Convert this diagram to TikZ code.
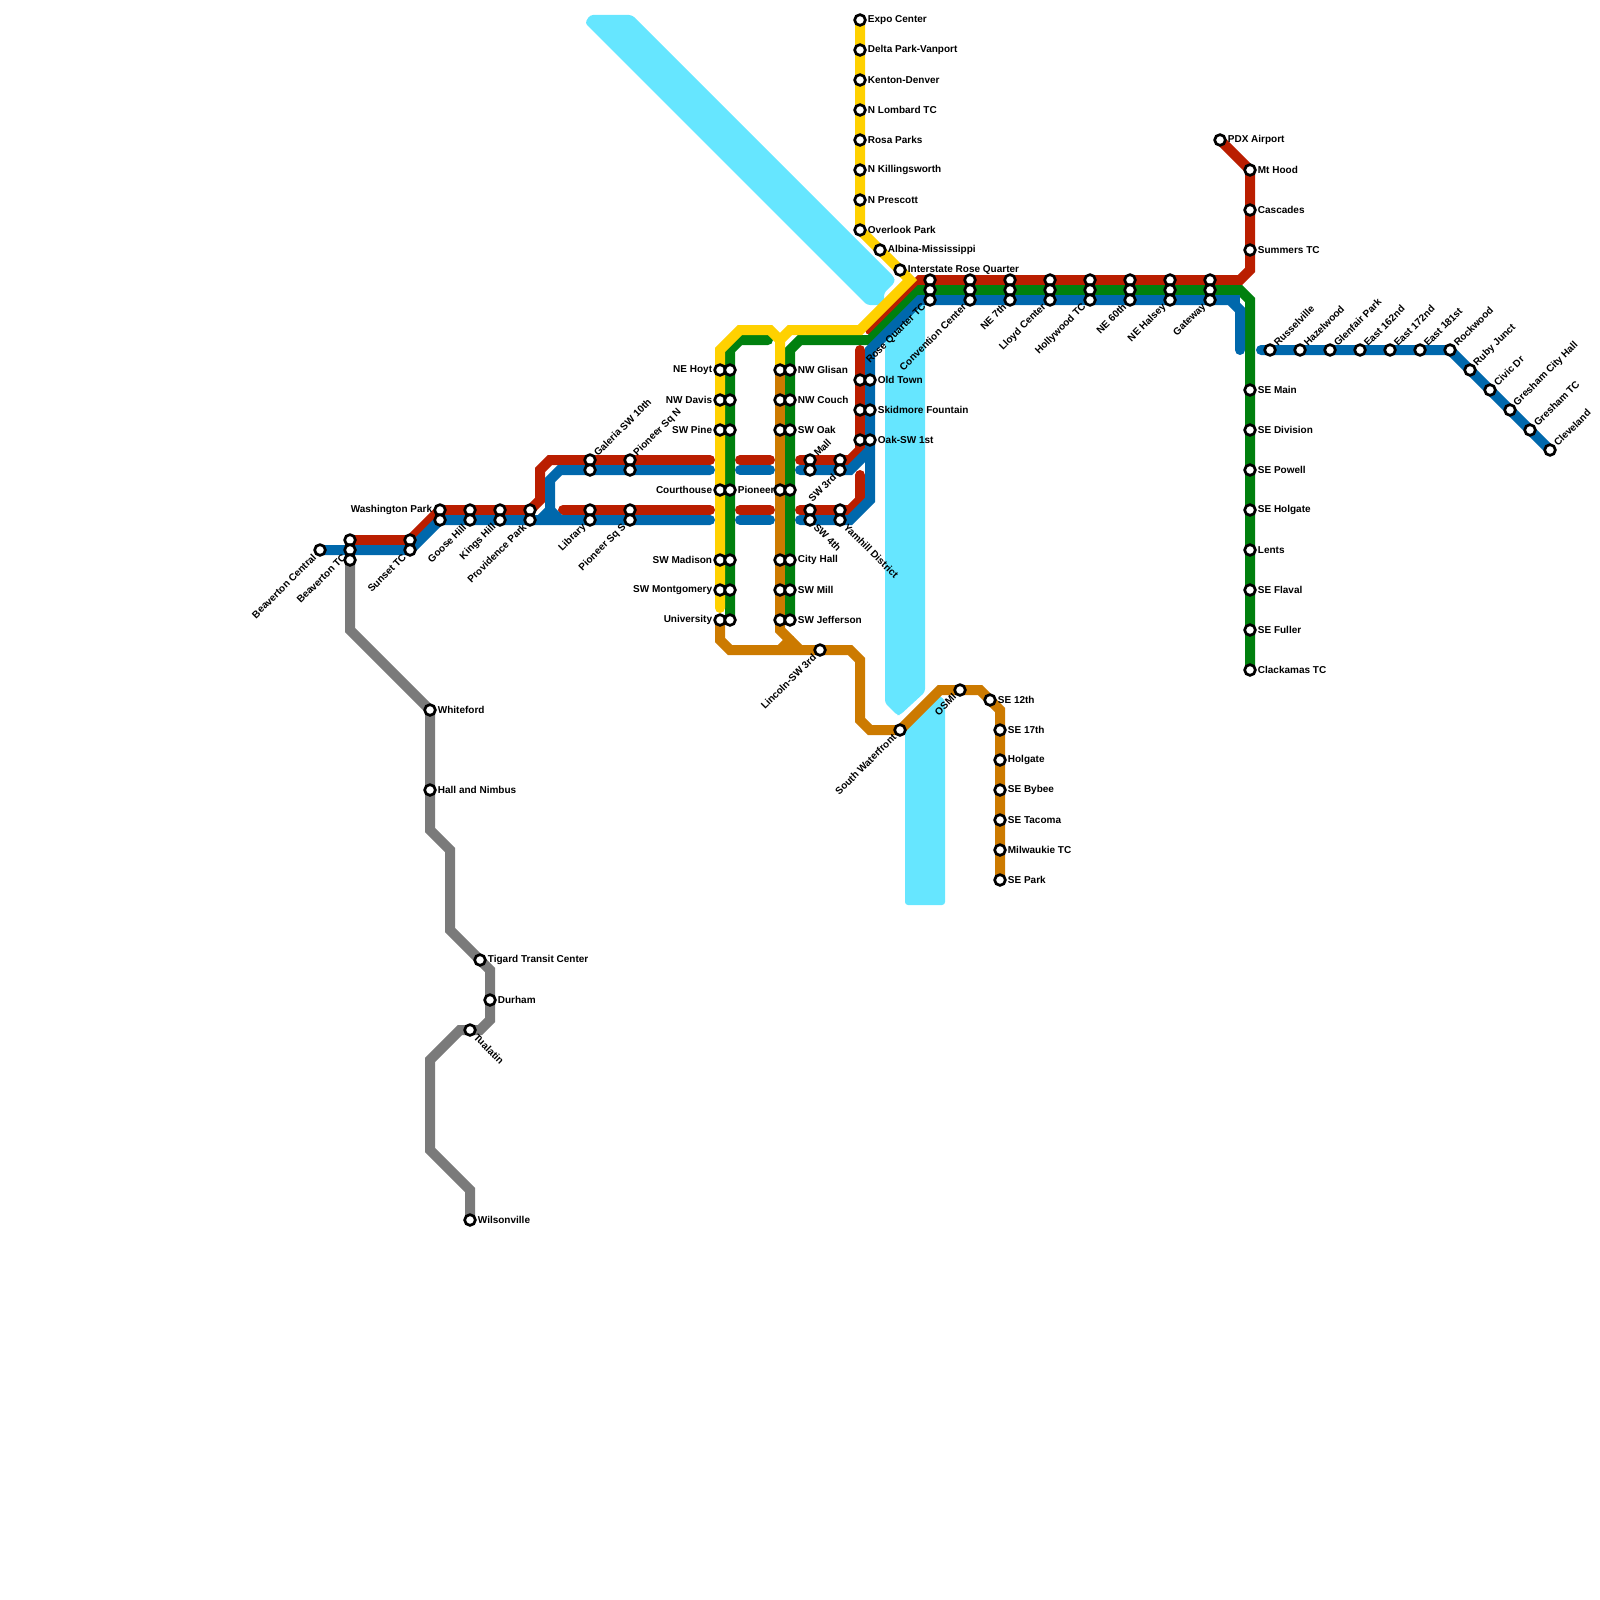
\documentclass[tikz,border=0pt]{standalone}
\usepackage{fontspec}
\setmainfont{Liberation Sans}
\definecolor{mxred}{RGB}{186,30,0}
\definecolor{mxblue}{RGB}{0,104,172}
\definecolor{mxgreen}{RGB}{0,128,14}
\definecolor{mxyellow}{RGB}{255,209,0}
\definecolor{mxorange}{RGB}{204,122,0}
\definecolor{mxgray}{RGB}{122,122,122}
\definecolor{mxriver}{RGB}{102,230,255}
\pgfdeclarelayer{lines}
\pgfsetlayers{lines,main}
\tikzset{
  railline/.style={line width=5pt, line cap=round, line join=miter},
  river/.style={fill=mxriver, draw=none, rounded corners=1.5pt},
  stn/.style={circle, draw=black, fill=white, line width=1.35pt, minimum size=5.35pt, inner sep=0pt},
  txt/.style={font=\fontsize{5}{6}\selectfont\bfseries, inner sep=0.4pt, text=black},
  lbe/.style={label={[txt]right:#1}},
  lbw/.style={label={[txt]left:#1}},
  lbne/.style={label={[txt,rotate=45,anchor=west]45:#1}},
  lbsw/.style={label={[txt,rotate=45,anchor=east]225:#1}},
  lbse/.style={label={[txt,rotate=-45,anchor=west]-45:#1}}
}
\begin{document}
\begin{tikzpicture}[x=0.5pt,y=-0.5pt]
  \useasboundingbox (0,0) rectangle (1600,1600);
  % Yellow line north
  \node[stn, lbe=Expo Center] (expo) at (860,20) {};
  \node[stn, lbe=Delta Park-Vanport] (delta) at (860,50) {};
  \node[stn, lbe=Kenton-Denver] (kenton) at (860,80) {};
  \node[stn, lbe=N Lombard TC] (lombard) at (860,110) {};
  \node[stn, lbe=Rosa Parks] (rosaparks) at (860,140) {};
  \node[stn, lbe=N Killingsworth] (killings) at (860,170) {};
  \node[stn, lbe=N Prescott] (prescott) at (860,200) {};
  \node[stn, lbe=Overlook Park] (overlook) at (860,230) {};
  \node[stn, lbe=Albina-Mississippi] (albina) at (880,250) {};
  \node[stn, lbe=Interstate Rose Quarter] (interstate) at (900,270) {};
  % East trunk
  \node[stn] (rosea) at (930,280) {};
  \node[stn] (roseb) at (930,290) {};
  \node[stn, lbsw=Rose Quarter TC] (rosec) at (930,300) {};
  \node[stn] (conva) at (970,280) {};
  \node[stn] (convb) at (970,290) {};
  \node[stn, lbsw=Convention Center] (convc) at (970,300) {};
  \node[stn] (ne7a) at (1010,280) {};
  \node[stn] (ne7b) at (1010,290) {};
  \node[stn, lbsw=NE 7th] (ne7c) at (1010,300) {};
  \node[stn] (lloyda) at (1050,280) {};
  \node[stn] (lloydb) at (1050,290) {};
  \node[stn, lbsw=Lloyd Center] (lloydc) at (1050,300) {};
  \node[stn] (holla) at (1090,280) {};
  \node[stn] (hollb) at (1090,290) {};
  \node[stn, lbsw=Hollywood TC] (hollc) at (1090,300) {};
  \node[stn] (ne60a) at (1130,280) {};
  \node[stn] (ne60b) at (1130,290) {};
  \node[stn, lbsw=NE 60th] (ne60c) at (1130,300) {};
  \node[stn] (halseya) at (1170,280) {};
  \node[stn] (halseyb) at (1170,290) {};
  \node[stn, lbsw=NE Halsey] (halseyc) at (1170,300) {};
  \node[stn] (gatea) at (1210,280) {};
  \node[stn] (gateb) at (1210,290) {};
  \node[stn, lbsw=Gateway] (gatec) at (1210,300) {};
  % Airport branch
  \node[stn, lbe=PDX Airport] (pdx) at (1220,140) {};
  \node[stn, lbe=Mt Hood] (mthood) at (1250,170) {};
  \node[stn, lbe=Cascades] (cascades) at (1250,210) {};
  \node[stn, lbe=Summers TC] (summers) at (1250,250) {};
  % Clackamas branch
  \node[stn, lbe=SE Main] (semain) at (1250,390) {};
  \node[stn, lbe=SE Division] (sedivision) at (1250,430) {};
  \node[stn, lbe=SE Powell] (sepowell) at (1250,470) {};
  \node[stn, lbe=SE Holgate] (seholgate) at (1250,510) {};
  \node[stn, lbe=Lents] (lents) at (1250,550) {};
  \node[stn, lbe=SE Flaval] (seflaval) at (1250,590) {};
  \node[stn, lbe=SE Fuller] (sefuller) at (1250,630) {};
  \node[stn, lbe=Clackamas TC] (clackamas) at (1250,670) {};
  % Gresham branch
  \node[stn, lbne=Russelville] (russel) at (1270,350) {};
  \node[stn, lbne=Hazelwood] (hazel) at (1300,350) {};
  \node[stn, lbne=Glenfair Park] (glenfair) at (1330,350) {};
  \node[stn, lbne=East 162nd] (east162) at (1360,350) {};
  \node[stn, lbne=East 172nd] (east172) at (1390,350) {};
  \node[stn, lbne=East 181st] (east181) at (1420,350) {};
  \node[stn, lbne=Rockwood] (rockwood) at (1450,350) {};
  \node[stn, lbne=Ruby Junct] (ruby) at (1470,370) {};
  \node[stn, lbne=Civic Dr] (civic) at (1490,390) {};
  \node[stn, lbne=Gresham City Hall] (greshamch) at (1510,410) {};
  \node[stn, lbne=Gresham TC] (greshamtc) at (1530,430) {};
  \node[stn, lbne=Cleveland] (cleveland) at (1550,450) {};
  % West side
  \node[stn, lbsw=Beaverton Central] (bvcentral) at (320,550) {};
  \node[stn] (bvtca) at (350,540) {};
  \node[stn, lbsw=Beaverton TC] (bvtcb) at (350,550) {};
  \node[stn] (bvtcc) at (350,560) {};
  \node[stn] (sunseta) at (410,540) {};
  \node[stn, lbsw=Sunset TC] (sunsetb) at (410,550) {};
  \node[stn, lbw=Washington Park] (washa) at (440,510) {};
  \node[stn] (washb) at (440,520) {};
  \node[stn] (goosea) at (470,510) {};
  \node[stn, lbsw=Goose Hill] (gooseb) at (470,520) {};
  \node[stn] (kingsa) at (500,510) {};
  \node[stn, lbsw=Kings Hill] (kingsb) at (500,520) {};
  \node[stn] (provia) at (530,510) {};
  \node[stn, lbsw=Providence Park] (provib) at (530,520) {};
  % Downtown rows
  \node[stn, lbne=Galeria SW 10th] (galeriaa) at (590,460) {};
  \node[stn] (galeriab) at (590,470) {};
  \node[stn, lbne=Pioneer Sq N] (psqna) at (630,460) {};
  \node[stn] (psqnb) at (630,470) {};
  \node[stn] (librarya) at (590,510) {};
  \node[stn, lbsw=Library] (libraryb) at (590,520) {};
  \node[stn] (psqsa) at (630,510) {};
  \node[stn, lbsw=Pioneer Sq S] (psqsb) at (630,520) {};
  \node[stn, lbne=Mall] (malla) at (810,460) {};
  \node[stn] (mallb) at (810,470) {};
  \node[stn] (sw3a) at (840,460) {};
  \node[stn, lbsw=SW 3rd] (sw3b) at (840,470) {};
  \node[stn] (sw4a) at (810,510) {};
  \node[stn, lbse=SW 4th] (sw4b) at (810,520) {};
  \node[stn] (yamhilla) at (840,510) {};
  \node[stn, lbse=Yamhill District] (yamhillb) at (840,520) {};
  % Downtown columns
  \node[stn, lbw=NE Hoyt] (hoyta) at (720,370) {};
  \node[stn] (hoytb) at (730,370) {};
  \node[stn, lbw=NW Davis] (davisa) at (720,400) {};
  \node[stn] (davisb) at (730,400) {};
  \node[stn, lbw=SW Pine] (pinea) at (720,430) {};
  \node[stn] (pineb) at (730,430) {};
  \node[stn, lbw=Courthouse] (courta) at (720,490) {};
  \node[stn, lbe=Pioneer] (courtb) at (730,490) {};
  \node[stn, lbw=SW Madison] (madisona) at (720,560) {};
  \node[stn] (madisonb) at (730,560) {};
  \node[stn, lbw=SW Montgomery] (montga) at (720,590) {};
  \node[stn] (montgb) at (730,590) {};
  \node[stn, lbw=University] (univa) at (720,620) {};
  \node[stn] (univb) at (730,620) {};
  \node[stn] (glisana) at (780,370) {};
  \node[stn, lbe=NW Glisan] (glisanb) at (790,370) {};
  \node[stn] (coucha) at (780,400) {};
  \node[stn, lbe=NW Couch] (couchb) at (790,400) {};
  \node[stn] (oaka) at (780,430) {};
  \node[stn, lbe=SW Oak] (oakb) at (790,430) {};
  \node[stn] (pioneera) at (780,490) {};
  \node[stn] (pioneerb) at (790,490) {};
  \node[stn] (cityhalla) at (780,560) {};
  \node[stn, lbe=City Hall] (cityhallb) at (790,560) {};
  \node[stn] (milla) at (780,590) {};
  \node[stn, lbe=SW Mill] (millb) at (790,590) {};
  \node[stn] (jeffa) at (780,620) {};
  \node[stn, lbe=SW Jefferson] (jeffb) at (790,620) {};
  % Old Town group
  \node[stn] (oldtowna) at (860,380) {};
  \node[stn, lbe=Old Town] (oldtownb) at (870,380) {};
  \node[stn] (skidmorea) at (860,410) {};
  \node[stn, lbe=Skidmore Fountain] (skidmoreb) at (870,410) {};
  \node[stn] (oak1a) at (860,440) {};
  \node[stn, lbe=Oak-SW 1st] (oak1b) at (870,440) {};
  % Orange line south
  \node[stn, lbsw=Lincoln-SW 3rd] (lincoln) at (820,650) {};
  \node[stn, lbsw=South Waterfront] (waterfront) at (900,730) {};
  \node[stn, lbsw=OSMI] (osmi) at (960,690) {};
  \node[stn, lbe=SE 12th] (se12) at (990,700) {};
  \node[stn, lbe=SE 17th] (se17) at (1000,730) {};
  \node[stn, lbe=Holgate] (holgate) at (1000,760) {};
  \node[stn, lbe=SE Bybee] (bybee) at (1000,790) {};
  \node[stn, lbe=SE Tacoma] (tacoma) at (1000,820) {};
  \node[stn, lbe=Milwaukie TC] (milwaukie) at (1000,850) {};
  \node[stn, lbe=SE Park] (separk) at (1000,880) {};
  % Gray line south
  \node[stn, lbe=Whiteford] (whiteford) at (430,710) {};
  \node[stn, lbe=Hall and Nimbus] (hall) at (430,790) {};
  \node[stn, lbe=Tigard Transit Center] (tigard) at (480,960) {};
  \node[stn, lbe=Durham] (durham) at (490,1000) {};
  \node[stn, lbse=Tualatin] (tualatin) at (470,1030) {};
  \node[stn, lbe=Wilsonville] (wilsonville) at (470,1220) {};
  \begin{pgfonlayer}{lines}
    % Rivers
    \fill[river] (590,15) -- (632,15) -- (894,277) -- (895,282) -- (884,293) -- (884,305) -- (867,305) -- (585,23) -- cycle;
    \fill[river] (925,300) -- (885,340) -- (885,703) -- (897,715) -- (900,715) -- (925,692) -- cycle;
    \fill[river] (905,905) -- (905,730) -- (938,695) -- (945,700) -- (945,905) -- cycle;
    % Gray
    \draw[railline, mxgray] (bvtcc.center) -- (350,630) -- (whiteford.center) -- (hall.center) -- (430,830) -- (450,850) -- (450,930) -- (tigard.center) -- (490,970) -- (durham.center) -- (490,1020) -- (480,1030) -- (460,1030) -- (430,1060) -- (430,1150) -- (470,1190) -- (wilsonville.center);
    % Red
    \draw[railline, mxred] (pdx.center) -- (mthood.center) -- (summers.center) -- (1250,270) -- (1240,280) -- (rosea.center) -- (920,280) -- (870,330);
    \draw[railline, mxred] (bvtca.center) -- (sunseta.center) -- (washa.center) -- (provia.center) -- (540,500) -- (540,470) -- (550,460) -- (710,460);
    \draw[railline, mxred] (563,510) -- (710,510);
    \draw[railline, mxred] (740,460) -- (770,460);
    \draw[railline, mxred] (740,510) -- (770,510);
    \draw[railline, mxred] (860,350) -- (oak1a.center) -- (860,450) -- (850,460) -- (800,460);
    \draw[railline, mxred] (860,475) -- (860,500) -- (850,510) -- (800,510);
    % Orange
    \draw[railline, mxorange] (glisana.center) -- (jeffa.center) -- (780,630) -- (800,650);
    \draw[railline, mxorange] (790,640) -- (780,650);
    \draw[railline, mxorange] (univa.center) -- (720,640) -- (730,650) -- (lincoln.center) -- (850,650) -- (860,660) -- (860,720) -- (870,730) -- (waterfront.center) -- (940,690) -- (980,690) -- (1000,710) -- (separk.center);
    % Green
    \draw[railline, mxgreen] (univb.center) -- (730,350) -- (740,340) -- (768,340);
    \draw[railline, mxgreen] (jeffb.center) -- (790,350) -- (800,340) -- (870,340) -- (920,290) -- (1240,290) -- (1250,300) -- (clackamas.center);
    % Blue
    \draw[railline, mxblue] (bvcentral.center) -- (sunsetb.center) -- (washb.center) -- (710,520);
    \draw[railline, mxblue] (540,520) -- (550,510) -- (550,480) -- (560,470) -- (710,470);
    \draw[railline, mxblue] (550,510) -- (560,520);
    \draw[railline, mxblue] (740,470) -- (770,470);
    \draw[railline, mxblue] (740,520) -- (770,520);
    \draw[railline, mxblue] (800,470) -- (850,470) -- (870,450);
    \draw[railline, mxblue] (800,520) -- (850,520) -- (870,500) -- (870,350) -- (920,300) -- (1230,300) -- (1240,310) -- (1240,350);
    \draw[railline, mxblue, line cap=butt] (1230,300) -- (1240,300);
    \draw[railline, mxblue] (1261,350) -- (rockwood.center) -- (cleveland.center);
    % Yellow
    \draw[railline, mxyellow] (expo.center) -- (overlook.center) -- (910,280) -- (860,330) -- (790,330) -- (780,340) -- (780,365);
    \draw[railline, mxyellow] (780,340) -- (770,330) -- (740,330) -- (720,350) -- (720,608);
  \end{pgfonlayer}
\end{tikzpicture}
\end{document}
